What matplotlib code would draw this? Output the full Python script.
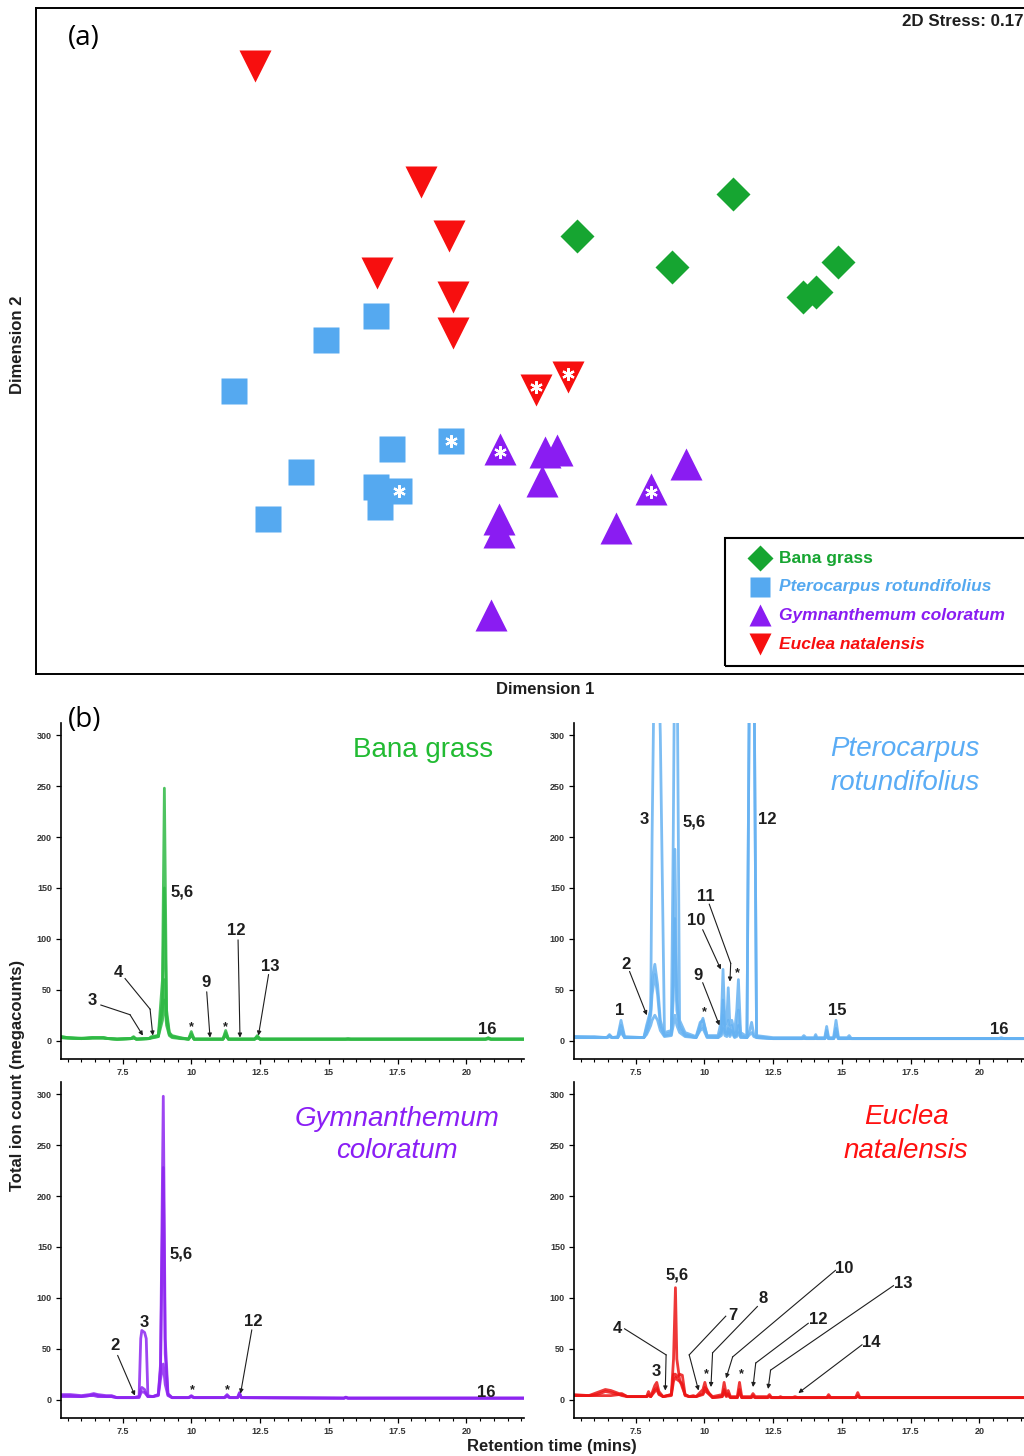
import matplotlib
matplotlib.use("Agg")
import matplotlib.pyplot as plt
from matplotlib.patches import Rectangle
from matplotlib.ticker import MultipleLocator

plt.rcParams["font.family"] = ["Liberation Sans", "DejaVu Sans"]

W, H = 1024, 1456

# ─────────────────────────────────────────────────────────────
#  (a) NMDS ordination — sample coordinates
# ─────────────────────────────────────────────────────────────
GROUPS = ["Bana grass", "Pterocarpus rotundifolius",
          "Gymnanthemum coloratum", "Euclea natalensis"]

BANA_X = [0.148, 0.772, 0.528, 1.192, 1.052, 1.104]
BANA_Y = [0.416, 0.584, 0.292, 0.312, 0.172, 0.192]

PTERO_X = [-0.656, -0.856, -1.224, -0.592, -0.956, -0.656, -0.640, -1.088, -0.356, -0.564]
PTERO_Y = [0.096, 0.000, -0.204, -0.436, -0.528, -0.588, -0.668, -0.716, -0.404, -0.604]
PTERO_STAR = [False] * 8 + [True, True]

GYMN_X = [-0.160, 0.020, 0.068, 0.008, 0.584, 0.444, -0.164, -0.164, 0.304, -0.196]
GYMN_Y = [-0.436, -0.448, -0.440, -0.564, -0.496, -0.596, -0.716, -0.768, -0.752, -1.100]
GYMN_STAR = [True, False, False, False, False, True, False, False, False, False]

EUC_X = [-1.140, -0.476, -0.364, -0.652, -0.348, -0.348, -0.016, 0.112]
EUC_Y = [1.096, 0.632, 0.416, 0.268, 0.172, 0.028, -0.200, -0.148]
EUC_STAR = [False] * 6 + [True, True]

STRESS = 0.17

# ─────────────────────────────────────────────────────────────
#  (b) Chromatograms — retention time (min) vs TIC (megacounts)
# ─────────────────────────────────────────────────────────────
BANA_T = [5.26, 5.5, 6.0, 6.4, 6.8, 7.0, 7.3, 7.8, 7.9, 8.0, 8.45, 8.55, 8.8, 8.95,
          9.02, 9.1, 9.2, 9.3, 9.6, 9.9, 10.0, 10.1, 11.15, 11.25, 11.35, 12.3,
          12.4, 12.5, 15.6, 15.7, 15.8, 20.7, 20.8, 20.9, 22.1]
BANA_1 = [4, 3, 2.5, 3, 3, 2, 1.5, 2, 4, 1.5, 2, 4, 5, 60, 248, 30, 8, 5, 3, 1.5,
          9, 1.5, 1.5, 10, 1.5, 1.5, 5, 1.5, 1.5, 2, 1.5, 1.5, 3, 1.5, 1.5]
BANA_2 = [3, 2.5, 2, 2.5, 3, 2, 1.5, 2, 3, 1.5, 2, 3, 5, 40, 150, 25, 7, 4, 2.5, 1.5,
          7, 1.5, 1.5, 8, 1.5, 1.5, 4, 1.5, 1.5, 1.5, 1.5, 1.5, 2, 1.5, 1.5]
BANA_3 = [4, 3, 2, 3, 2.5, 2, 1.5, 2, 3, 1.5, 2, 3, 4, 30, 60, 20, 6, 4, 2.5, 1.5,
          6, 1.5, 1.5, 6, 1.5, 1.5, 3, 1.5, 1.5, 1.5, 1.5, 1.5, 2, 1.5, 1.5]
BANA_4 = [3, 2.5, 2, 2.5, 2.5, 2, 1.5, 2, 2.5, 1.5, 2, 2.5, 4, 20, 40, 15, 5, 3, 2, 1.5,
          5, 1.5, 1.5, 5, 1.5, 1.5, 2.5, 1.5, 1.5, 1.5, 1.5, 1.5, 2, 1.5, 1.5]

PTERO_T = [5.25, 6.0, 6.45, 6.55, 6.65, 6.85, 6.97, 7.1, 7.8, 7.9, 7.97, 8.05, 8.1,
           8.2, 8.3, 8.4, 8.55, 8.8, 8.87, 8.93, 9.0, 9.1, 9.3, 9.7, 9.85, 9.95,
           10.1, 10.5, 10.62, 10.68, 10.75, 10.82, 10.87, 10.93, 11.0, 11.1, 11.18,
           11.24, 11.32, 11.55, 11.65, 11.72, 11.8, 11.9, 12.5, 13.55, 13.62, 13.7,
           14.0, 14.05, 14.1, 14.38, 14.45, 14.52, 14.7, 14.79, 14.88, 15.2, 15.27,
           15.35, 20.7, 20.8, 20.9, 22.1]
PTERO_1 = [4, 4, 3, 6, 3, 4, 20, 4, 3, 15, 22, 30, 200, 420, 420, 300, 8, 10, 200,
           420, 420, 20, 8, 4, 18, 20, 5, 5, 20, 70, 15, 20, 52, 15, 20, 8, 30, 60,
           8, 4, 400, 420, 400, 5, 3, 3, 5, 3, 3, 6, 3, 3, 14, 3, 3, 20, 3, 3, 5, 2,
           2, 3, 2, 2]
PTERO_2 = [3, 3, 3, 4, 3, 3, 15, 3, 3, 12, 18, 30, 60, 75, 55, 20, 6, 8, 60, 188,
           40, 15, 6, 3, 15, 22, 4, 4, 10, 40, 10, 8, 20, 8, 10, 5, 10, 30, 5, 3,
           400, 420, 400, 4, 2, 2, 3, 2, 2, 4, 2, 2, 10, 2, 2, 12, 2, 2, 3, 2, 2, 2,
           2, 2]
PTERO_3 = [4, 3, 3, 5, 3, 3, 10, 3, 3, 8, 14, 25, 45, 65, 45, 15, 5, 6, 40, 120,
           30, 12, 5, 3, 12, 15, 4, 3, 8, 25, 8, 6, 12, 6, 15, 4, 6, 15, 4, 3, 10,
           18, 6, 3, 2, 2, 3, 2, 2, 3, 2, 2, 6, 2, 2, 8, 2, 2, 2, 2, 2, 2, 2, 2]
PTERO_4 = [3, 3, 3, 4, 3, 3, 8, 3, 3, 6, 10, 15, 20, 25, 20, 10, 4, 5, 15, 25,
           15, 8, 4, 3, 10, 12, 3, 3, 5, 12, 5, 4, 8, 4, 8, 3, 4, 8, 3, 3, 6, 8,
           4, 3, 2, 2, 2, 2, 2, 2, 2, 2, 4, 2, 2, 5, 2, 2, 2, 2, 2, 2, 2, 2]

GYMN_T = [5.26, 5.6, 6.0, 6.3, 6.45, 6.6, 6.9, 7.1, 7.3, 7.9, 8.1, 8.16, 8.2, 8.3,
          8.36, 8.42, 8.6, 8.8, 8.88, 8.98, 9.05, 9.15, 9.3, 9.9, 10.0, 10.1, 11.2,
          11.3, 11.4, 11.68, 11.75, 11.82, 15.55, 15.62, 15.7, 22.1]
GYMN_1 = [5, 5, 4, 5, 6, 5, 4, 4, 2, 2, 3, 10, 12, 10, 6, 3, 3, 5, 35, 298, 60, 6,
          2, 2, 4, 2, 2, 5, 2, 2, 7, 2, 1.5, 2.5, 1.5, 1.5]
GYMN_2 = [4, 4, 3, 4, 5, 4, 3, 3, 2, 2, 3, 60, 68, 66, 60, 4, 3, 5, 30, 228, 45, 5,
          2, 2, 3, 2, 2, 4, 2, 2, 6, 2, 1.5, 2, 1.5, 1.5]
GYMN_3 = [3, 3, 3, 4, 4, 3, 3, 3, 2, 2, 2, 6, 8, 7, 5, 3, 3, 4, 20, 35, 15, 4, 2,
          2, 3, 2, 2, 3, 2, 2, 4, 2, 1.5, 2, 1.5, 1.5]

EUC_T = [5.25, 5.8, 6.1, 6.4, 6.6, 6.9, 7.0, 7.2, 7.9, 7.97, 8.05, 8.2, 8.27, 8.35,
         8.5, 8.8, 8.88, 8.95, 9.0, 9.1, 9.2, 9.3, 9.45, 9.6, 9.7, 9.95, 10.02, 10.1,
         10.18, 10.3, 10.65, 10.72, 10.8, 10.87, 10.95, 11.2, 11.28, 11.36, 11.7,
         11.77, 11.85, 12.3, 12.37, 12.45, 12.7, 12.77, 12.85, 13.2, 13.3, 13.4,
         14.45, 14.52, 14.6, 15.5, 15.58, 15.66, 16.0, 22.1]
EUC_1 = [5, 4, 4, 4, 4, 5, 5, 3, 3, 8, 3, 14, 17, 8, 3, 5, 40, 110, 40, 20, 12, 5,
         3, 4, 3, 10, 17, 8, 6, 3, 5, 17, 5, 9, 3, 3, 17, 3, 3, 6, 3, 3, 5, 2, 2, 3,
         2, 2, 3, 2, 2, 5, 2, 2, 7, 2, 2, 2]
EUC_2 = [4, 4, 7, 10, 9, 6, 6, 3, 3, 5, 3, 10, 12, 6, 3, 5, 25, 25, 22, 25, 24, 5,
         3, 3, 3, 6, 12, 10, 6, 2, 3, 10, 4, 6, 2, 2, 10, 2, 2, 4, 2, 2, 3, 2, 2, 2,
         2, 2, 2, 2, 2, 3, 2, 2, 4, 2, 2, 2]
EUC_3 = [4, 4, 5, 8, 7, 5, 4, 3, 3, 4, 3, 8, 10, 5, 3, 4, 18, 22, 20, 18, 15, 4,
         3, 3, 3, 5, 9, 7, 5, 2, 3, 7, 3, 4, 2, 2, 7, 2, 2, 3, 2, 2, 3, 2, 2, 2,
         2, 2, 2, 2, 2, 2, 2, 2, 3, 2, 2, 2]

XTICKS = [7.5, 10, 12.5, 15, 17.5, 20]
XTICK_LABELS = ["7.5", "10", "12.5", "15", "17.5", "20"]
YTICKS = [0, 50, 100, 150, 200, 250, 300]

# peak labels: text, label position, leader path ending at the peak
ANN_BANA = [("3", (6.39, 39), [(6.71, 35), (7.77, 25.5), (8.24, 5)]),
            ("4", (7.33, 67), [(7.59, 61), (8.5, 31), (8.6, 5)]),
            ("5,6", (9.66, 146), []),
            ("9", (10.53, 57), [(10.56, 48), (10.68, 3)]),
            ("12", (11.64, 108), [(11.7, 99), (11.77, 3)]),
            ("13", (12.86, 73), [(12.81, 65), (12.44, 5)]),
            ("16", (20.77, 11), [])]
STAR_BANA = [(10.0, 13), (11.25, 13)]

ANN_PTERO = [("1", (6.92, 30), []),
             ("2", (7.16, 75), [(7.28, 68), (7.91, 25)]),
             ("3", (7.82, 217), []),
             ("5,6", (9.63, 215), []),
             ("12", (12.29, 217), []),
             ("11", (10.06, 142), [(10.18, 134), (10.96, 76), (10.93, 58)]),
             ("10", (9.72, 118), [(9.94, 109), (10.6, 70)]),
             ("9", (9.76, 64), [(9.94, 57), (10.55, 15)]),
             ("15", (14.83, 30), []),
             ("16", (20.71, 11), [])]
STAR_PTERO = [(10.0, 28), (11.2, 66)]

ANN_GYMN = [("2", (7.24, 53), [(7.32, 43.5), (7.95, 4)]),
            ("3", (8.29, 76), []),
            ("5,6", (9.64, 143), []),
            ("12", (12.26, 77), [(12.2, 68.6), (11.79, 6)]),
            ("16", (20.73, 7), [])]
STAR_GYMN = [(10.05, 9), (11.31, 9)]

ANN_EUC = [("5,6", (9.01, 122), []),
           ("4", (6.82, 70), [(7.1, 69.6), (8.61, 44), (8.58, 9)]),
           ("3", (8.25, 28), []),
           ("7", (11.05, 83), [(10.78, 82), (9.45, 44), (9.79, 9)]),
           ("8", (12.13, 99), [(11.93, 91.5), (10.3, 46), (10.24, 12.4)]),
           ("10", (15.1, 129), [(14.77, 127), (11.03, 42), (10.79, 21)]),
           ("12", (14.16, 79), [(13.78, 75), (11.87, 36), (11.77, 12.4)]),
           ("13", (17.24, 114), [(16.88, 112), (12.41, 29), (12.32, 10.5)]),
           ("14", (16.07, 56), [(15.74, 54), (13.42, 6.5)])]
STAR_EUC = [(10.08, 25), (11.33, 25)]

# colours
C_GREEN, C_BLUE, C_PURPLE, C_RED = "#16a531", "#55a9f0", "#8a1cf2", "#f70f0f"
C_GREEN_L, C_BLUE_L, C_PURPLE_L, C_RED_L = "#2fb944", "#66b2f2", "#8d25f0", "#ec1515"
INK = "#1e1e1e"

fig = plt.figure(figsize=(W / 100, H / 100), dpi=100)


def px_rect(left, top, right, bottom):
    return [left / W, 1 - bottom / H, (right - left) / W, (bottom - top) / H]


# ── Panel (a) ─────────────────────────────────────────────────
ax = fig.add_axes(px_rect(36, 8, 1040, 674))
ax.set_xlim(-2.016, 2.0)
ax.set_ylim(-1.336, 1.328)
ax.set_xticks([]); ax.set_yticks([])
for s in ax.spines.values():
    s.set_linewidth(1.4)

ax.plot(BANA_X, BANA_Y, "D", ms=17, color=C_GREEN, mec="none", ls="none")
ax.plot(PTERO_X, PTERO_Y, "s", ms=19, color=C_BLUE, mec="none", ls="none")
ax.plot(GYMN_X, GYMN_Y, "^", ms=23, color=C_PURPLE, mec="none", ls="none")
ax.plot(EUC_X, EUC_Y, "v", ms=23, color=C_RED, mec="none", ls="none")

for xs, ys, flags, dy in [(PTERO_X, PTERO_Y, PTERO_STAR, 0.0),
                          (GYMN_X, GYMN_Y, GYMN_STAR, -0.01),
                          (EUC_X, EUC_Y, EUC_STAR, 0.012)]:
    sx = [x for x, f in zip(xs, flags) if f]
    sy = [y + dy for y, f in zip(ys, flags) if f]
    ax.plot(sx, sy, marker=(6, 2, 0), ms=9, mew=1.6, color="white", ls="none")

fig.text(902 / W, 1 - 22 / H, f"2D Stress: {STRESS:.2f}", fontsize=12.2,
         fontweight="bold", ha="left", va="center", color=INK)

# legend box
ax.add_patch(Rectangle(((725 - 36) / 1004, (674 - 666) / 666), 0.4, 128 / 666,
                       transform=ax.transAxes, fill=False, lw=1.5, clip_on=False))
leg_style = [("D", 13, C_GREEN, "normal"), ("s", 14, C_BLUE, "italic"),
             ("^", 16, C_PURPLE, "italic"), ("v", 16, C_RED, "italic")]
for i, (name, (mk, ms, col, sty)) in enumerate(zip(GROUPS, leg_style)):
    yy = (674 - (558 + i * 28.7)) / 666
    ax.plot([(760 - 36) / 1004], [yy], mk, ms=ms, color=col, mec="none",
            transform=ax.transAxes, clip_on=False)
    ax.text((779 - 36) / 1004, yy, name, transform=ax.transAxes, color=col,
            fontsize=12.5, fontweight="bold", style=sty, ha="left", va="center")

fig.text(18 / W, 1 - 345 / H, "Dimension 2", rotation=90, fontsize=12,
         fontweight="bold", ha="center", va="center", color=INK)
fig.text(545 / W, 1 - 690 / H, "Dimension 1", fontsize=12,
         fontweight="bold", ha="center", va="center", color=INK)
fig.text(68 / W, 1 - 38 / H, "(a)", fontsize=20, ha="left", va="center",
         family=["Open Sans", "DejaVu Sans"])
fig.text(68 / W, 1 - 720 / H, "(b)", fontsize=20, ha="left", va="center",
         family=["Open Sans", "DejaVu Sans"])


# ── Panel (b) ─────────────────────────────────────────────────
def chrom_axes(rect):
    a = fig.add_axes(rect)
    a.set_xlim(5.26, 22.1)
    a.set_ylim(-18, 312)
    a.spines["top"].set_visible(False)
    a.spines["right"].set_visible(False)
    a.spines["left"].set_linewidth(1.2)
    a.spines["bottom"].set_linewidth(1.2)
    a.set_xticks(XTICKS)
    a.set_xticklabels(XTICK_LABELS)
    a.xaxis.set_minor_locator(MultipleLocator(0.5))
    a.set_yticks(YTICKS)
    a.tick_params(axis="both", which="major", length=3.5, width=0.9,
                  labelsize=6.5, labelcolor="#333333", pad=3)
    a.tick_params(axis="x", which="minor", length=2.5, width=0.8)
    for lab in a.get_xticklabels() + a.get_yticklabels():
        lab.set_fontweight("bold")
    return a


def annotate(a, items, stars):
    for txt, (tx, ty), path in items:
        a.text(tx, ty, txt, fontsize=12, fontweight="bold", color=INK,
               ha="center", va="center")
        if len(path) > 2:
            a.plot([p[0] for p in path[:-1]], [p[1] for p in path[:-1]],
                   color=INK, lw=0.8)
        if len(path) >= 2:
            a.annotate("", xy=path[-1], xytext=path[-2],
                       arrowprops=dict(arrowstyle="-|>", lw=0.8, color=INK,
                                       mutation_scale=6, shrinkA=0, shrinkB=0))
    for sx, sy in stars:
        a.text(sx, sy, "*", fontsize=9, fontweight="bold", color=INK,
               ha="center", va="center")


panels = [
    (px_rect(61, 723, 524, 1059), BANA_T, [BANA_4, BANA_3, BANA_2, BANA_1],
     C_GREEN_L, ANN_BANA, STAR_BANA),
    (px_rect(574, 723, 1037, 1059), PTERO_T, [PTERO_4, PTERO_3, PTERO_2, PTERO_1],
     C_BLUE_L, ANN_PTERO, STAR_PTERO),
    (px_rect(61, 1082, 524, 1418), GYMN_T, [GYMN_3, GYMN_2, GYMN_1],
     C_PURPLE_L, ANN_GYMN, STAR_GYMN),
    (px_rect(574, 1082, 1037, 1418), EUC_T, [EUC_3, EUC_2, EUC_1],
     C_RED_L, ANN_EUC, STAR_EUC),
]
for rect, t, traces, col, ann, stars in panels:
    a = chrom_axes(rect)
    for tr in traces:
        a.plot(t, tr, color=col, lw=2.0, alpha=0.85)
    annotate(a, ann, stars)

# sample titles
fig.text(423 / W, 1 - 750 / H, "Bana grass", fontsize=20, color="#22bb33",
         ha="center", va="center")
fig.text(905 / W, 1 - 766 / H, "Pterocarpus\nrotundifolius", fontsize=20,
         style="italic", color="#5aacf5", ha="center", va="center", linespacing=1.35)
fig.text(397 / W, 1 - 1135 / H, "Gymnanthemum\ncoloratum", fontsize=20,
         style="italic", color="#8a1ef5", ha="center", va="center", linespacing=1.35)
fig.text(906 / W, 1 - 1134 / H, "Euclea\nnatalensis", fontsize=20,
         style="italic", color="#ff1010", ha="center", va="center", linespacing=1.35)

fig.text(18 / W, 1 - 1075 / H, "Total ion count (megacounts)", rotation=90,
         fontsize=12, fontweight="bold", ha="center", va="center", color=INK)
fig.text(552 / W, 1 - 1446 / H, "Retention time (mins)", fontsize=12,
         fontweight="bold", ha="center", va="center", color=INK)

fig.savefig("out.png", dpi=100)
